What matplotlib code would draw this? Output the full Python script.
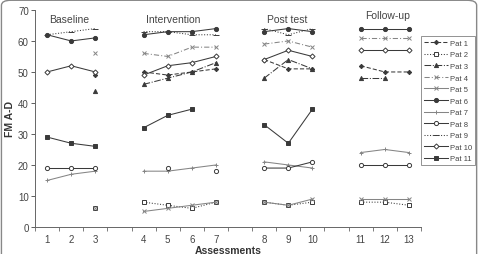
'''Individual FM A-D scores across assessment phases'''

import numpy as np
import matplotlib
matplotlib.use('Agg')
import matplotlib.pyplot as plt
from matplotlib.patches import FancyBboxPatch

plt.rcParams['font.family'] = ['Liberation Sans', 'DejaVu Sans']

nan = np.nan

phases = ['Baseline', 'Intervention', 'Post test', 'Follow-up']
phase_sizes = [3, 4, 3, 3]
assessments = [str(i) for i in range(1, 14)]

pat1 = [nan, nan, 49, 50, 49, 50, 51, 54, 51, 51, 52, 50, 50]
pat2 = [nan, nan, 6, 8, 7, 6, 8, 8, 7, 8, 8, 8, 7]
pat3 = [nan, nan, 44, 46, 48, 50, 53, 48, 54, 51, 48, 48, nan]
pat4 = [nan, nan, 56, 56, 55, 58, 58, 59, 60, 58, 61, 61, 61]
pat5 = [nan, nan, 6, 5, 6, 7, 8, 8, 7, 9, 9, 9, 9]
pat6 = [62, 60, 61, 62, 63, 63, 64, 63, 64, 63, 64, 64, 64]
pat7 = [15, 17, 18, 18, 18, 19, 20, 21, 20, 19, 24, 25, 24]
pat8 = [19, 19, 19, nan, 19, nan, 18, 19, 19, 21, 20, 20, 20]
pat9 = [62, 63, 64, 63, 63, 62, 62, 64, 62, 64, nan, nan, nan]
pat10 = [50, 52, 50, 49, 52, 53, 55, 54, 57, 55, 57, 57, 57]
pat11 = [29, 27, 26, 32, 36, 38, nan, 33, 27, 38, nan, nan, nan]

patients = [pat1, pat2, pat3, pat4, pat5, pat6, pat7, pat8, pat9, pat10, pat11]
names = [f"Pat {i}" for i in range(1, 12)]

dark = '#3a3a3a'
grey = '#858585'
styles = [
    dict(ls=(0, (4, 2)), marker='D', ms=2.2, mfc=dark, color=dark),
    dict(ls=':', marker='s', ms=2.6, mfc='white', color=dark),
    dict(ls='-.', marker='^', ms=3, mfc=dark, color=dark),
    dict(ls=(0, (5, 2, 1, 2)), marker='x', ms=2.6, color=grey),
    dict(ls='-', marker='x', ms=2.6, color=grey),
    dict(ls='-', marker='o', ms=3, mfc=dark, color=dark),
    dict(ls='-', marker='+', ms=3.5, color=grey),
    dict(ls='-', marker='o', ms=3, mfc='white', color=dark),
    dict(ls=':', marker='_', ms=4.5, color=dark),
    dict(ls='-', marker='D', ms=2.6, mfc='white', color=dark),
    dict(ls='-', marker='s', ms=3, mfc=dark, color=dark),
]

# positions: one empty slot between phases
positions = []
starts = []
pos = 1
for size in phase_sizes:
    starts.append(pos)
    positions.extend(range(pos, pos + size))
    pos += size + 1
positions = np.array(positions)

fig = plt.figure(figsize=(4.8, 2.55), dpi=100)
ax = fig.add_axes([0.073, 0.106, 0.804, 0.851])

for values, name, st in zip(patients, names, styles):
    values = np.array(values, dtype=float)
    idx = 0
    for g, size in enumerate(phase_sizes):
        seg = slice(idx, idx + size)
        ax.plot(positions[seg], values[seg], lw=0.75, mew=0.7,
                mec=st['color'], label=name if g == 0 else None, **st)
        idx += size

for name, start, ytxt in zip(phases, starts, [67, 67, 67, 68.3]):
    ax.text(start + 0.1 if name != 'Follow-up' else start + 0.2, ytxt, name,
            fontsize=7.5, color='#444444', va='center', ha='left')

ax.set_xlim(0.5, positions[-1] + 0.5)
ax.set_ylim(0, 70)
ax.set_xticks(positions)
ax.set_xticklabels(assessments)
ax.set_xticks(np.arange(0.5, positions[-1] + 1, 1), minor=True)
ax.tick_params(axis='x', which='major', length=0, labelsize=7, colors='#444444', pad=5)
ax.tick_params(axis='x', which='minor', length=3, width=0.6, color='#666666')
ax.set_yticks(range(0, 71, 10))
ax.tick_params(axis='y', length=3, width=0.6, labelsize=7, colors='#444444', pad=1.5)

for side in ['top', 'right']:
    ax.spines[side].set_visible(False)
for side in ['left', 'bottom']:
    ax.spines[side].set_color('#666666')
    ax.spines[side].set_linewidth(0.7)

ax.set_xlabel('Assessments', fontsize=7.5, fontweight='bold', color='#333333', labelpad=1)
ax.set_ylabel('FM A-D', fontsize=7.5, fontweight='bold', color='#333333', labelpad=2)

leg = fig.legend(loc='upper left', bbox_to_anchor=(0.877, 0.853), fontsize=5.5,
                 handlelength=3.2, handletextpad=0.2, labelspacing=0.55,
                 borderpad=0.4, frameon=True, fancybox=False,
                 labelcolor='#444444', borderaxespad=0)
leg.get_frame().set_edgecolor('#777777')
leg.get_frame().set_linewidth(0.7)

border = FancyBboxPatch((0.003, -0.05), 0.99, 1.045, transform=fig.transFigure,
                        boxstyle='round,pad=0,rounding_size=0.02',
                        fill=False, edgecolor='#888888', lw=1.0)
fig.patches.append(border)

fig.savefig('out.png', dpi=100)
